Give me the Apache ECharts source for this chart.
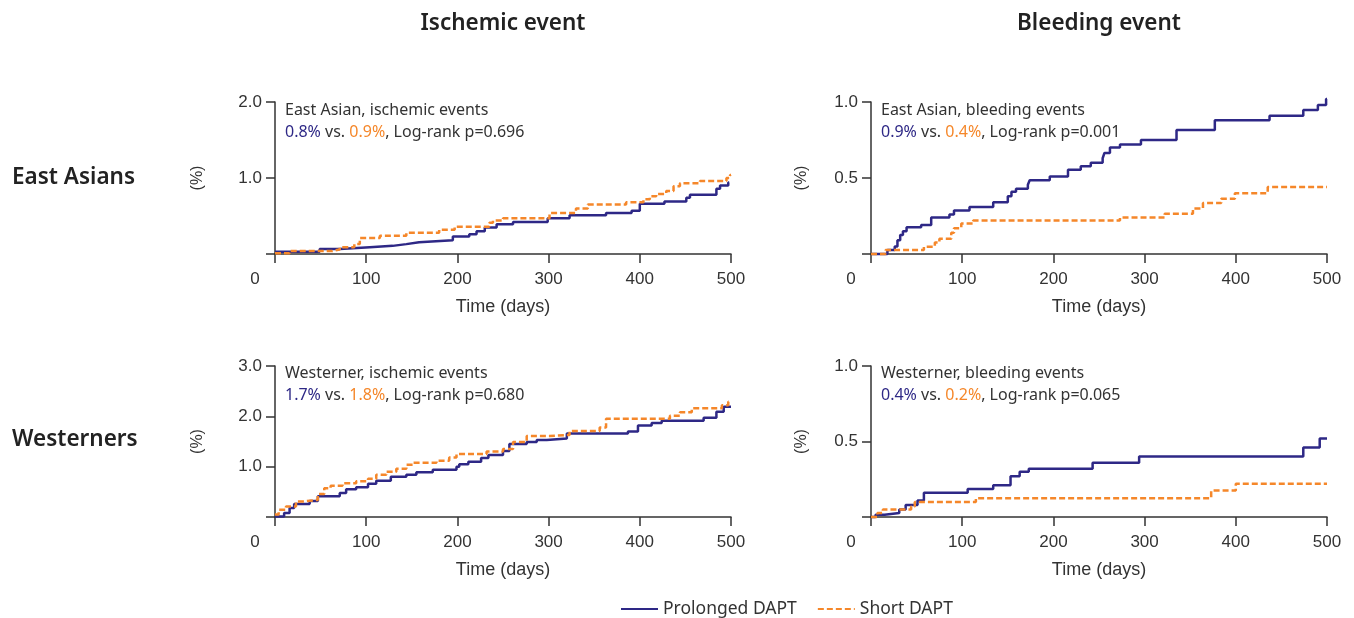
<!DOCTYPE html>
<html>
<head>
<meta charset="utf-8">
<script src="https://cdn.jsdelivr.net/npm/echarts@6/dist/echarts.min.js"></script>
<style>
  html, body { margin: 0; padding: 0; background: #fff; }
  #chart { width: 1354px; height: 618px; }
</style>
</head>
<body>
<div id="chart"></div>
<script>
// [day, cumulative %]
const eaIschemicProlonged = [[0,0.03],[49,0.067],[71,0.09],[104,0.107],[129,0.13],[144,0.155],[158,0.18],[195,0.23],[213,0.26],[221,0.30],[230,0.35],[243,0.39],[261,0.42],[299,0.47],[323,0.51],[363,0.54],[391,0.57],[400,0.66],[427,0.69],[451,0.74],[455,0.78],[484,0.86],[488,0.90],[497,0.94],[498,0.94]]
const eaIschemicShort = [[0,0.01],[16,0.04],[63,0.06],[71,0.09],[87,0.13],[93,0.21],[115,0.24],[144,0.28],[180,0.32],[197,0.36],[235,0.41],[239,0.44],[250,0.47],[301,0.54],[330,0.60],[343,0.65],[385,0.68],[404,0.72],[411,0.76],[418,0.79],[429,0.83],[437,0.89],[444,0.93],[466,0.96],[495,1.00],[499,1.04],[500,1.04]]
const eaBleedingProlonged = [[0,0],[18,0.026],[26,0.05],[29,0.09],[32,0.125],[35,0.15],[39,0.176],[55,0.19],[66,0.24],[86,0.26],[91,0.286],[108,0.31],[134,0.34],[150,0.38],[154,0.41],[159,0.43],[172,0.456],[174,0.485],[196,0.51],[216,0.555],[230,0.577],[241,0.60],[254,0.63],[256,0.665],[262,0.70],[273,0.72],[296,0.75],[335,0.815],[377,0.88],[437,0.91],[474,0.947],[490,0.98],[499,1.02],[500,1.02]]
const eaBleedingShort = [[0,0],[16,0.026],[58,0.048],[70,0.075],[75,0.10],[88,0.14],[91,0.17],[99,0.20],[112,0.22],[273,0.24],[322,0.264],[353,0.30],[364,0.335],[384,0.363],[399,0.40],[435,0.44],[500,0.44]]
const wIschemicProlonged = [[0,0.01],[10,0.08],[16,0.18],[21,0.26],[38,0.32],[47,0.41],[71,0.475],[78,0.55],[89,0.59],[102,0.66],[111,0.72],[127,0.80],[144,0.84],[155,0.89],[173,0.94],[199,1.00],[202,1.05],[212,1.10],[226,1.17],[234,1.23],[250,1.31],[257,1.45],[276,1.49],[287,1.53],[298,1.56],[320,1.66],[387,1.70],[398,1.82],[413,1.87],[424,1.91],[470,1.97],[484,2.09],[492,2.19],[500,2.19]]
const wIschemicShort = [[0,0.05],[4,0.145],[12,0.21],[23,0.31],[32,0.34],[47,0.455],[54,0.57],[61,0.62],[74,0.67],[89,0.71],[102,0.76],[111,0.84],[122,0.90],[133,0.96],[144,1.04],[151,1.08],[177,1.12],[191,1.18],[199,1.25],[232,1.30],[250,1.35],[261,1.49],[276,1.61],[301,1.63],[323,1.71],[356,1.78],[363,1.95],[433,2.01],[444,2.08],[457,2.16],[490,2.22],[497,2.29],[500,2.29]]
const wBleedingProlonged = [[0,0],[5,0.015],[15,0.026],[31,0.05],[38,0.08],[51,0.11],[58,0.16],[106,0.185],[134,0.21],[153,0.27],[163,0.30],[173,0.32],[243,0.36],[294,0.40],[474,0.46],[492,0.52],[500,0.52]]
const wBleedingShort = [[0,0],[7,0.026],[13,0.05],[44,0.07],[48,0.10],[115,0.125],[373,0.175],[400,0.22],[500,0.22]]

const colTitles = ['Ischemic event', 'Bleeding event']
const rowTitles = ['East Asians', 'Westerners']
const xTicks = { min: 0, max: 500, interval: 100 }
const yMax = [2, 1, 3, 1]
const yStep = [1, 0.5, 1, 0.5]
const notes = [
    ['East Asian, ischemic events', '0.8%', '0.9%', '0.696'],
    ['East Asian, bleeding events', '0.9%', '0.4%', '0.001'],
    ['Westerner, ischemic events', '1.7%', '1.8%', '0.680'],
    ['Westerner, bleeding events', '0.4%', '0.2%', '0.065']
]
const panels = [
    [eaIschemicProlonged, eaIschemicShort],
    [eaBleedingProlonged, eaBleedingShort],
    [wIschemicProlonged, wIschemicShort],
    [wBleedingProlonged, wBleedingShort]
]

const BLUE = '#2e2886'
const ORANGE = '#f5872a'
const INK = '#333'
const SANS = '"Noto Sans", sans-serif'
const NUM = '"Liberation Sans", Arial, sans-serif'

const gridPos = [
    { left: 275, top: 102, width: 456, height: 152 },
    { left: 871, top: 102, width: 456, height: 152 },
    { left: 275, top: 366, width: 456, height: 151 },
    { left: 871, top: 366, width: 456, height: 151 }
]
const axisLine = { lineStyle: { color: INK, width: 1.5 } }
const axisTick = { length: 9, lineStyle: { color: INK, width: 1.5 } }

const xAxes = gridPos.map((g, i) => ({
    gridIndex: i,
    type: 'value',
    min: xTicks.min,
    max: xTicks.max,
    interval: xTicks.interval,
    name: 'Time (days)',
    nameLocation: 'middle',
    nameGap: 44,
    nameTextStyle: { color: INK, fontSize: 18, fontFamily: NUM },
    axisLine,
    axisTick,
    splitLine: { show: false },
    axisLabel: {
        margin: 17,
        color: INK,
        fontSize: 17,
        fontFamily: NUM,
        formatter: v => (v === 0 ? '{z|0}' : String(v)),
        rich: { z: { fontSize: 17, fontFamily: NUM, color: INK, padding: [0, 40, 0, 0] } }
    }
}))

const yAxes = gridPos.map((g, i) => ({
    gridIndex: i,
    type: 'value',
    min: 0,
    max: yMax[i],
    interval: yStep[i],
    name: '(%)',
    nameLocation: 'middle',
    nameGap: i % 2 === 0 ? 69 : 61,
    nameTextStyle: { color: INK, fontSize: 16, fontFamily: NUM },
    axisLine: { show: true, ...axisLine },
    axisTick: { show: true, ...axisTick },
    splitLine: { show: false },
    axisLabel: {
        margin: 13,
        color: INK,
        fontSize: 17,
        fontFamily: NUM,
        formatter: v => (v === 0 ? '' : v.toFixed(1))
    }
}))

const series = []
panels.forEach((pair, i) => {
    series.push({
        name: 'Prolonged DAPT',
        type: 'line',
        step: 'end',
        xAxisIndex: i,
        yAxisIndex: i,
        symbol: 'none',
        clip: false,
        z: 3,
        lineStyle: { color: BLUE, width: 2.5 },
        itemStyle: { color: BLUE },
        data: pair[0]
    })
    series.push({
        name: 'Short DAPT',
        type: 'line',
        step: 'end',
        xAxisIndex: i,
        yAxisIndex: i,
        symbol: 'none',
        clip: false,
        z: 4,
        lineStyle: { color: ORANGE, width: 2.5, type: [6, 3] },
        itemStyle: { color: ORANGE },
        data: pair[1]
    })
})

const noteText = notes.map((n, i) => ({
    type: 'text',
    left: gridPos[i].left + 10,
    top: gridPos[i].top - 3 - (i >= 2 ? 1 : 0),
    style: {
        text: n[0] + '\n{b|' + n[1] + '} vs. {o|' + n[2] + '}, Log-rank p=' + n[3],
        fill: INK,
        font: '16px ' + SANS,
        lineHeight: 22,
        rich: {
            b: { fill: BLUE, font: '16px ' + SANS },
            o: { fill: ORANGE, font: '16px ' + SANS }
        }
    }
}))

const headText = [
    { x: 503, y: 24, text: colTitles[0], align: 'center' },
    { x: 1099, y: 24, text: colTitles[1], align: 'center' },
    { x: 12, y: 178, text: rowTitles[0], align: 'left' },
    { x: 12, y: 440, text: rowTitles[1], align: 'left' }
].map(t => ({
    type: 'text',
    x: t.x,
    y: t.y,
    style: {
        text: t.text,
        fill: '#222',
        font: '600 22.5px ' + SANS,
        textAlign: t.align,
        textVerticalAlign: 'middle'
    }
}))

const chart = echarts.init(document.getElementById('chart'))
chart.setOption({
    animation: false,
    backgroundColor: '#fff',
    grid: gridPos,
    xAxis: xAxes,
    yAxis: yAxes,
    legend: {
        left: 615,
        top: 595,
        itemWidth: 37,
        itemHeight: 12,
        itemGap: 20,
        itemStyle: { opacity: 0 },
        textStyle: { color: INK, fontSize: 17.5, fontFamily: SANS },
        data: ['Prolonged DAPT', 'Short DAPT']
    },
    graphic: [...headText, ...noteText],
    series
})
</script>
</body>
</html>
